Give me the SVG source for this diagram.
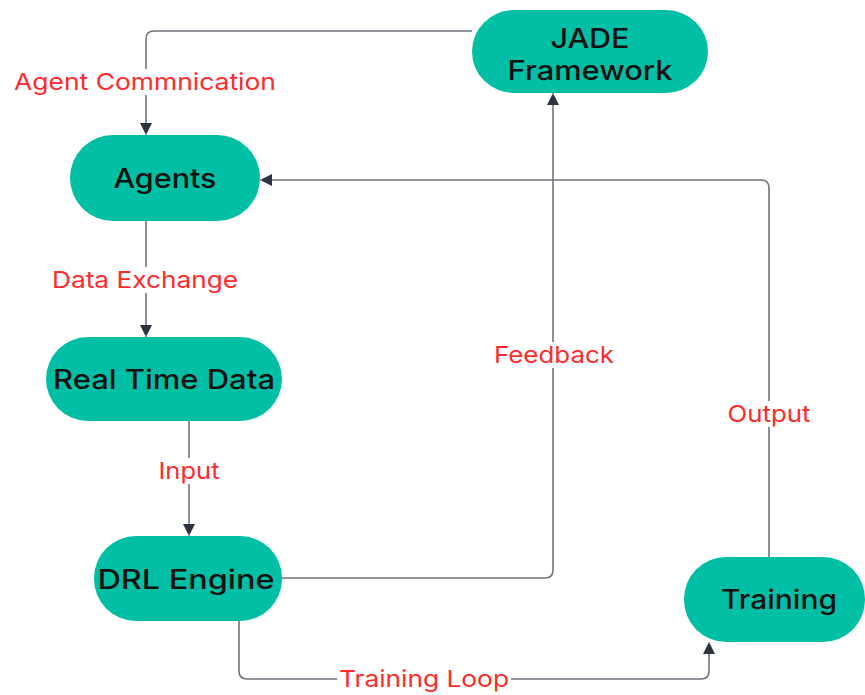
<svg xmlns="http://www.w3.org/2000/svg" width="865" height="695" viewBox="0 0 865 695">
<defs>
<style>
.node{fill:#00BFA5;}
.nt{font-family:Inter,"Liberation Sans",sans-serif;font-size:27px;font-weight:500;fill:#111;text-anchor:middle;}
.edge{fill:none;stroke:#70757d;stroke-width:1.6;}
.lbl{font-family:Inter,"Liberation Sans",sans-serif;font-size:23px;fill:#ff2b2b;text-anchor:middle;}
.lb{fill:#fff;}
</style>
<marker id="arr" viewBox="0 0 10 12" refX="12" refY="6" markerWidth="10" markerHeight="12" markerUnits="userSpaceOnUse" orient="auto">
<path d="M0,0 L12,6 L0,12 z" fill="#2d3440"/>
</marker>
</defs>
<rect width="865" height="695" fill="#fff"/>
<g id="connectors">
<path class="edge" d="M472,31 H154 Q146,31 146,39 V135" marker-end="url(#arr)"/>
<path class="edge" d="M146,221 V337" marker-end="url(#arr)"/>
<path class="edge" d="M189,421 V536" marker-end="url(#arr)"/>
<path class="edge" d="M282,578 H545 Q553,578 553,570 V93" marker-end="url(#arr)"/>
<path class="edge" d="M769,557 V188 Q769,180 761,180 H260" marker-end="url(#arr)"/>
<path class="edge" d="M239,621 V671 Q239,679 247,679 H701 Q709,679 709,671 V642" marker-end="url(#arr)"/>
<rect class="lb" x="12" y="69" width="266" height="26"/>
<text class="lbl" x="145" y="90" textLength="262" lengthAdjust="spacingAndGlyphs">Agent Commnication</text>
<rect class="lb" x="50" y="267" width="190" height="26"/>
<text class="lbl" x="145" y="288" textLength="186" lengthAdjust="spacingAndGlyphs">Data Exchange</text>
<rect class="lb" x="156" y="458" width="65" height="26"/>
<text class="lbl" x="189" y="479" textLength="61" lengthAdjust="spacingAndGlyphs">Input</text>
<rect class="lb" x="492" y="342" width="124" height="26"/>
<text class="lbl" x="554" y="363" textLength="120" lengthAdjust="spacingAndGlyphs">Feedback</text>
<rect class="lb" x="726" y="401" width="87" height="26"/>
<text class="lbl" x="769" y="422" textLength="83" lengthAdjust="spacingAndGlyphs">Output</text>
<rect class="lb" x="337" y="666" width="174" height="26"/>
<text class="lbl" x="424" y="687" textLength="170" lengthAdjust="spacingAndGlyphs">Training Loop</text>
</g>
<g id="jade">
<rect class="node" x="472" y="10" width="236" height="83" rx="42"/>
<text class="nt" x="590" y="48" textLength="79" lengthAdjust="spacingAndGlyphs">JADE</text>
<text class="nt" x="590" y="80" textLength="165" lengthAdjust="spacingAndGlyphs">Framework</text>
</g>
<g id="agents">
<rect class="node" x="70" y="135" width="190" height="86" rx="43"/>
<text class="nt" x="165" y="188" textLength="103" lengthAdjust="spacingAndGlyphs">Agents</text>
</g>
<g id="realtime">
<rect class="node" x="46" y="337" width="236" height="84" rx="42"/>
<text class="nt" x="164" y="389" textLength="222" lengthAdjust="spacingAndGlyphs">Real Time Data</text>
</g>
<g id="drl">
<rect class="node" x="94" y="536" width="188" height="85" rx="42"/>
<text class="nt" x="186" y="589" textLength="177" lengthAdjust="spacingAndGlyphs">DRL Engine</text>
</g>
<g id="training">
<rect class="node" x="684" y="557" width="181" height="85" rx="42"/>
<text class="nt" x="779" y="609" textLength="116" lengthAdjust="spacingAndGlyphs">Training</text>
</g>
</svg>
